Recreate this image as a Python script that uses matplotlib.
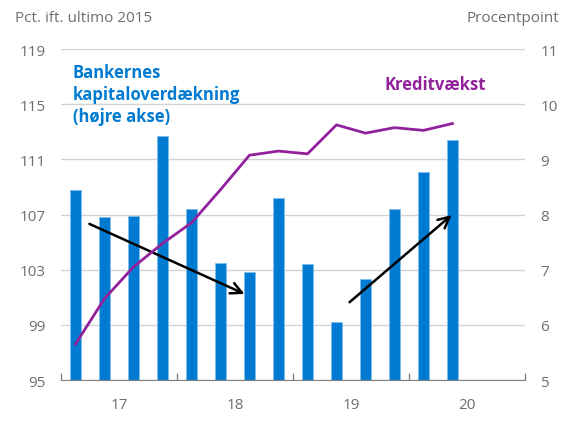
import matplotlib
matplotlib.use("Agg")
import matplotlib.pyplot as plt
import numpy as np

plt.rcParams["font.family"] = ["Open Sans", "DejaVu Sans"]

# quarterly observations, 2017Q1 .. 2020Q2
kapital = [8.44, 7.95, 7.97, 9.43, 8.10, 7.12, 6.95, 8.30, 7.10, 6.05, 6.83, 8.10, 8.77, 9.35]
kredit = [97.6, 100.9, 103.2, 104.9, 106.4, 108.8, 111.3, 111.6, 111.4, 113.5, 112.9, 113.3, 113.1, 113.6]
years = ["17", "18", "19", "20"]
n_slots = 16

# trend arrows (x in quarter index, y in right-axis units)
arrow_down = [(0.48, 7.83), (5.83, 6.56)]
arrow_up = [(9.45, 6.41), (12.97, 7.99)]

BLUE = "#007BD1"
PURPLE = "#92229C"
GREY = "#6e6e6e"

x = np.arange(len(kapital))

fig = plt.figure(figsize=(5.61, 4.35), dpi=100)
ax = fig.add_axes([0.1087, 0.1241, 0.8271, 0.7609])
axr = ax.twinx()
axr.set_zorder(1)
ax.set_zorder(2)
ax.patch.set_visible(False)

axr.bar(x, kapital, width=0.4, color=BLUE, edgecolor="#7dbdec", linewidth=0.6)
ax.plot(x, kredit, color=PURPLE, lw=2)

ax.set_ylim(95, 119)
ax.set_yticks(np.arange(95, 120, 4))
axr.set_ylim(5, 11)
axr.set_yticks(np.arange(5, 12, 1))
axr.grid(axis="y", color="#d3d3d3", lw=1)
axr.set_axisbelow(True)

ax.set_xlim(-0.5, n_slots - 0.5)
ax.set_xticks(np.arange(-0.5, n_slots, 4))
ax.set_xticklabels([])
ax.set_xticks(np.arange(1.5, n_slots, 4), minor=True)
ax.set_xticklabels(years, minor=True)
ax.tick_params(axis="x", which="major", direction="in", length=5, color="#808080", width=1)
ax.tick_params(axis="x", which="minor", length=0, pad=12, labelsize=11, labelcolor=GREY)
ax.tick_params(axis="y", length=0, pad=11, labelsize=11, labelcolor=GREY)
axr.tick_params(axis="y", length=0, pad=11, labelsize=11, labelcolor=GREY)

for a in (ax, axr):
    for s in ("top", "left", "right"):
        a.spines[s].set_visible(False)
    a.spines["bottom"].set_color("#808080")
axr.spines["bottom"].set_visible(False)

for (x0, y0), (x1, y1) in (arrow_down, arrow_up):
    axr.annotate("", xy=(x1, y1), xytext=(x0, y0),
                 arrowprops=dict(arrowstyle="->", color="black", lw=1.8,
                                 mutation_scale=20, shrinkA=0, shrinkB=0))

fig.text(73 / 561, 1 - 64 / 435, "Bankernes\nkapitaloverdækning\n(højre akse)",
         color=BLUE, fontsize=12, fontweight="bold", va="top", ha="left",
         linespacing=1.3)
fig.text(385 / 561, 1 - 85 / 435, "Kreditvækst", color=PURPLE, fontsize=12,
         fontweight="bold", va="center", ha="left")

fig.text(15 / 561, 1 - 18 / 435, "Pct. ift. ultimo 2015", color=GREY, fontsize=11,
         va="center", ha="left")
fig.text(559 / 561, 1 - 18 / 435, "Procentpoint", color=GREY, fontsize=11,
         va="center", ha="right")

fig.savefig("out.png", dpi=100)
